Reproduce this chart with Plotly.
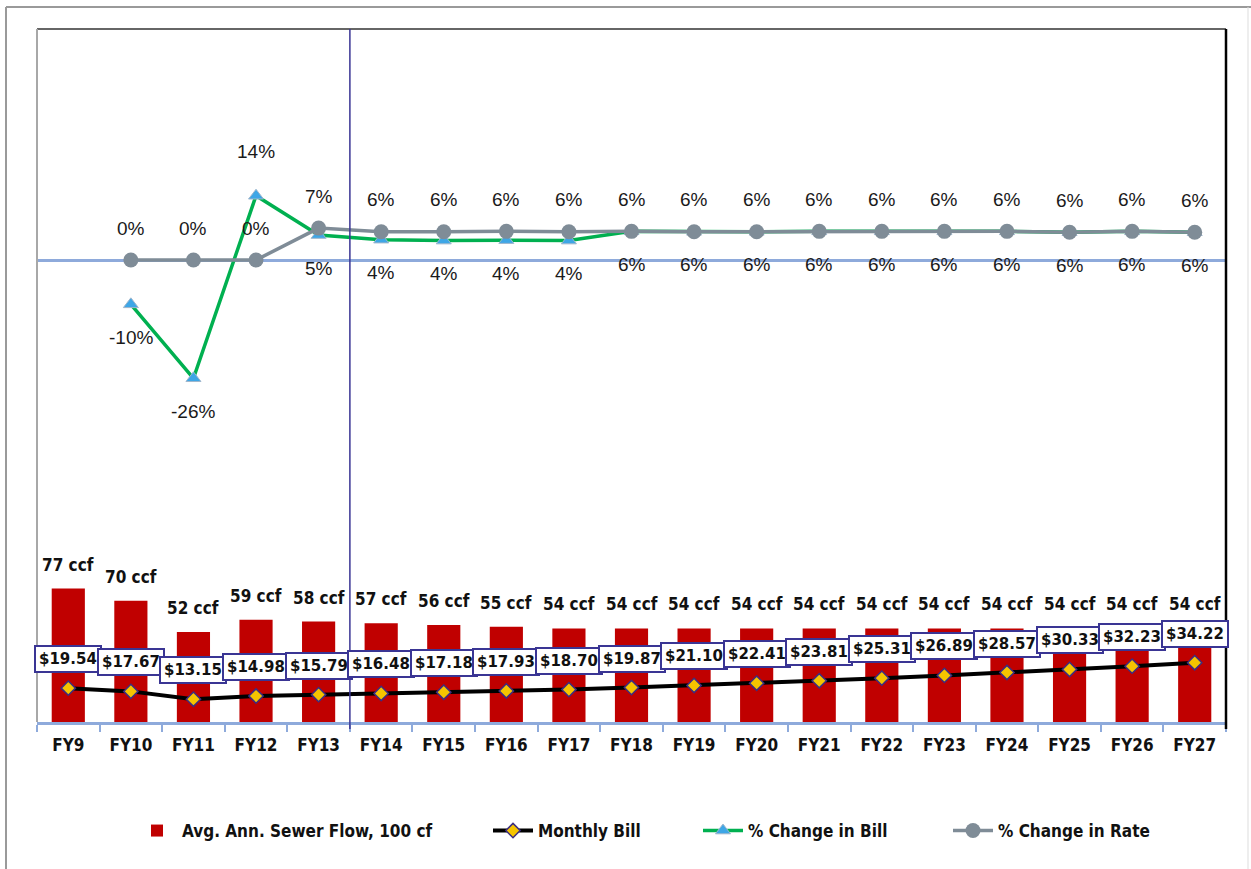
import plotly.graph_objects as go

# ---------------- data ----------------
categories = ["FY9", "FY10", "FY11", "FY12", "FY13", "FY14", "FY15", "FY16", "FY17",
              "FY18", "FY19", "FY20", "FY21", "FY22", "FY23", "FY24", "FY25", "FY26", "FY27"]
sewer_flow = [77, 70, 52, 59, 58, 57, 56, 55, 54, 54, 54, 54, 54, 54, 54, 54, 54, 54, 54]
monthly_bill = [19.54, 17.67, 13.15, 14.98, 15.79, 16.48, 17.18, 17.93, 18.70, 19.87,
                21.10, 22.41, 23.81, 25.31, 26.89, 28.57, 30.33, 32.23, 34.22]
pct_categories = ["FY10", "FY11", "FY12", "FY13", "FY14", "FY15", "FY16", "FY17", "FY18",
                  "FY19", "FY20", "FY21", "FY22", "FY23", "FY24", "FY25", "FY26", "FY27"]
pct_change_bill = [-9.6, -25.6, 13.9, 5.4, 4.4, 4.2, 4.3, 4.2, 6.2,
                   6.1, 6.1, 6.2, 6.2, 6.2, 6.2, 6.0, 6.2, 6.0]
pct_change_rate = [0.0, 0.0, 0.0, 6.9, 6.1, 6.1, 6.2, 6.1, 6.2,
                   6.1, 6.1, 6.2, 6.2, 6.2, 6.2, 6.0, 6.2, 6.0]
# label placement for % change in bill: True = above the point
bill_label_above = [False, False, True, False, False, False, False, False, False,
                    False, False, False, False, False, False, False, False, False]
divider_after = "FY13"

# ---------------- style ----------------
W, H = 1251, 869
PL, PR, PT, PB = 37, 1226, 29, 722   # plot area in pixels
NARROW = "Liberation Sans Narrow, Arial Narrow, DejaVu Sans Condensed, sans-serif"
RED = "#c00000"
GREEN = "#00b050"
GRAY = "#7f8c97"
AXBLUE = "#8eaadb"
NAVY = "#3a3594"

def px_x(x):
    return (x - PL) / (PR - PL)

def px_y(y):
    return (PB - y) / (PB - PT)

fig = go.Figure()

fig.add_trace(go.Bar(
    x=categories, y=sewer_flow, name="Avg. Ann. Sewer Flow, 100 cf",
    marker=dict(color=RED, line=dict(width=0)), width=0.53, yaxis="y",
    legend="legend", hoverinfo="skip"))

fig.add_trace(go.Scatter(
    x=categories, y=monthly_bill, name="Monthly Bill", mode="lines+markers",
    line=dict(color="black", width=4),
    marker=dict(symbol="diamond", size=11, color="#f5c400",
                line=dict(color="#3b2d80", width=1.5)),
    yaxis="y", legend="legend2"))

fig.add_trace(go.Scatter(
    x=pct_categories, y=pct_change_bill, name="% Change in Bill", mode="lines+markers",
    line=dict(color=GREEN, width=3.5),
    marker=dict(symbol="triangle-up", size=13, color="#3ea6e6",
                line=dict(color="#9fb6cc", width=1)),
    yaxis="y2", legend="legend3"))

fig.add_trace(go.Scatter(
    x=pct_categories, y=pct_change_rate, name="% Change in Rate", mode="lines+markers",
    line=dict(color=GRAY, width=3.5),
    marker=dict(symbol="circle", size=15, color=GRAY),
    yaxis="y2", legend="legend4"))

annotations = []
# bar labels
for c, v in zip(categories, sewer_flow):
    annotations.append(dict(x=c, y=v, yref="y", text=f"{v} ccf", showarrow=False,
                            yshift=24, font=dict(family=NARROW, size=17, color="#111",
                                                 weight="bold")))
# bill labels
for c, v in zip(categories, monthly_bill):
    annotations.append(dict(x=c, y=v, yref="y", text=f"${v:.2f}", showarrow=False,
                            yshift=29, font=dict(family="DejaVu Sans", size=15,
                                                 color="#111", weight="bold"),
                            bgcolor="white", bordercolor=NAVY, borderwidth=2,
                            borderpad=3))
# rate labels (above)
for c, v in zip(pct_categories, pct_change_rate):
    annotations.append(dict(x=c, y=v, yref="y2", text=f"{round(v):.0f}%", showarrow=False,
                            yshift=32, font=dict(family="Liberation Sans", size=19,
                                                 color="#1a1a1a")))
# bill change labels
for c, v, above in zip(pct_categories, pct_change_bill, bill_label_above):
    annotations.append(dict(x=c, y=v, yref="y2", text=f"{round(v):.0f}%", showarrow=False,
                            yshift=44 if above else -33,
                            font=dict(family="Liberation Sans", size=19, color="#1a1a1a")))

div_x = categories.index(divider_after) + 0.5
shapes = [
    # outer frame (left, top, right)
    dict(type="line", xref="paper", yref="paper", x0=px_x(6), x1=px_x(6),
         y0=px_y(869), y1=px_y(7), line=dict(color="#9a9a9a", width=2)),
    dict(type="line", xref="paper", yref="paper", x0=px_x(6), x1=px_x(1251),
         y0=px_y(7), y1=px_y(7), line=dict(color="#9a9a9a", width=2)),
    dict(type="line", xref="paper", yref="paper", x0=px_x(1248), x1=px_x(1248),
         y0=px_y(869), y1=px_y(7), line=dict(color="#dddddd", width=1)),
    # plot-area border
    dict(type="line", xref="paper", yref="paper", x0=0, x1=1, y0=1, y1=1,
         line=dict(color="#333333", width=1.5)),
    dict(type="line", xref="paper", yref="paper", x0=0, x1=0, y0=0, y1=1,
         line=dict(color="#a8a8a8", width=2)),
    dict(type="line", xref="paper", yref="paper", x0=1, x1=1, y0=px_y(729), y1=1,
         line=dict(color="black", width=2.5)),
    # divider between actual and projected years
    dict(type="line", xref="x", yref="paper", x0=div_x, x1=div_x, y0=px_y(729), y1=1,
         line=dict(color=NAVY, width=1.5)),
]

legend_common = dict(orientation="h", yanchor="middle", xanchor="left",
                     bgcolor="rgba(0,0,0,0)", itemwidth=40,
                     font=dict(family=NARROW, size=17, color="#111", weight="bold"))
LY = px_y(831)

fig.update_layout(
    width=W, height=H,
    margin=dict(l=PL, r=W - PR, t=PT, b=H - PB),
    paper_bgcolor="white", plot_bgcolor="white",
    showlegend=True,
    bargap=0.47,
    xaxis=dict(type="category", categoryorder="array", categoryarray=categories,
               range=[-0.5, len(categories) - 0.5],
               showline=True, linecolor=AXBLUE, linewidth=3,
               ticks="outside", tickson="boundaries", ticklen=7, tickcolor=AXBLUE,
               tickwidth=1.5, showgrid=False, zeroline=False, ticklabelstandoff=6,
               tickfont=dict(family=NARROW, size=17, color="#111", weight="bold")),
    yaxis=dict(range=[0, 400], showgrid=False, zeroline=False, showline=False,
               showticklabels=False, ticks=""),
    yaxis2=dict(range=[-100, 50], overlaying="y", side="right", showgrid=False,
                zeroline=True, zerolinecolor=AXBLUE, zerolinewidth=3,
                showline=False, showticklabels=False, ticks=""),
    legend=dict(x=px_x(132), y=LY, **legend_common),
    legend2=dict(x=px_x(488), y=LY, **legend_common),
    legend3=dict(x=px_x(698), y=LY, **legend_common),
    legend4=dict(x=px_x(948), y=LY, **legend_common),
    annotations=annotations,
    shapes=shapes,
)

fig.write_html("out.html", config={"displayModeBar": False},
               post_script="document.body.style.margin='0';")
